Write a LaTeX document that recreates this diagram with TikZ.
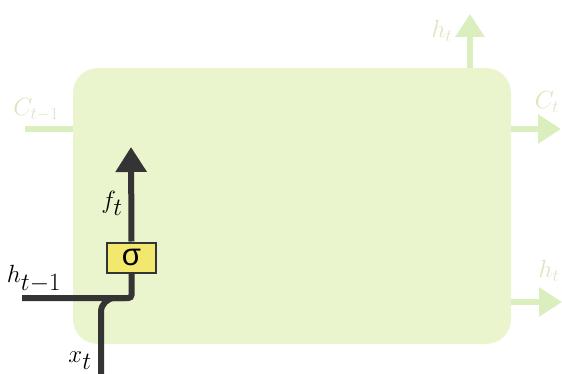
\documentclass[tikz,border=0pt]{standalone}
\usepackage{fontspec}
\newfontfamily\sigmafont{Liberation Sans}
\usetikzlibrary{arrows.meta}
\definecolor{cellfill}{RGB}{234,245,206}
\definecolor{fadearrow}{RGB}{218,238,190}
\definecolor{fadetext}{RGB}{218,230,190}
\definecolor{darkline}{RGB}{52,52,52}
\definecolor{gatefill}{RGB}{242,232,110}
\tikzset{
  fadeline/.style={draw=fadearrow, line width=6pt, -{Triangle[width=28pt,length=23pt]}},
  fadeplain/.style={draw=fadearrow, line width=6pt},
  fadelabel/.style={text=fadetext, font=\fontsize{27}{31}\selectfont, inner sep=0pt},
  darkpath/.style={draw=darkline, line width=6pt},
  darkarrow/.style={draw=darkline, line width=6pt, -{Triangle[width=30pt,length=25pt]}},
  darklabel/.style={text=black, font=\fontsize{33}{38}\selectfont, inner sep=0pt},
  gatebox/.style={draw=darkline, line width=2pt, fill=gatefill, minimum width=49pt, minimum height=30pt, inner sep=0pt, font=\sigmafont\fontsize{31}{34}\selectfont}
}
\begin{document}
\begin{tikzpicture}[x=1pt,y=-1pt]
\useasboundingbox (0,0) rectangle (562,374);
% cell
\node[draw=none, fill=cellfill, rounded corners=25pt, minimum width=438pt, minimum height=276pt, inner sep=0pt] (cell) at (292,206) {};
% faded arrows
\coordinate (cin) at (25,129);
\coordinate (cinend) at (73,129);
\coordinate (cout) at (511,129);
\coordinate (coutend) at (561,129);
\coordinate (htop0) at (470,68);
\coordinate (htop1) at (470,14);
\coordinate (hr0) at (511,302);
\coordinate (hr1) at (562,302);
\draw[fadeplain] (cin) -- (cinend);
\draw[fadeline] (cout) -- (coutend);
\draw[fadeline] (htop0) -- (htop1);
\draw[fadeline] (hr0) -- (hr1);
\node[fadelabel] (lcin) at (36,110) {$C_{t-1}$};
\node[fadelabel] (lcout) at (547,102) {$C_t$};
\node[fadelabel] (lhtop) at (442,31) {$h_t$};
\node[fadelabel] (lhr) at (549,271) {$h_t$};
% forget gate
\node[gatebox] (sig) at (131.5,257.5) {σ};
\coordinate (hin) at (22,298);
\coordinate (ftip) at (131,147);
\coordinate (xin) at (101,380);
\coordinate (join) at (125,298);
\draw[darkpath, rounded corners=3pt] (hin) -| (sig.south);
\draw[darkarrow] (sig.north) -- (ftip);
\draw[darkpath, rounded corners=14pt] (xin) |- (join);
\node[darklabel] (lh) at (34,279) {$h_{t-1}$};
\node[darklabel] (lf) at (112,203) {$f_t$};
\node[darklabel] (lx) at (80,361) {$x_t$};
\end{tikzpicture}
\end{document}
